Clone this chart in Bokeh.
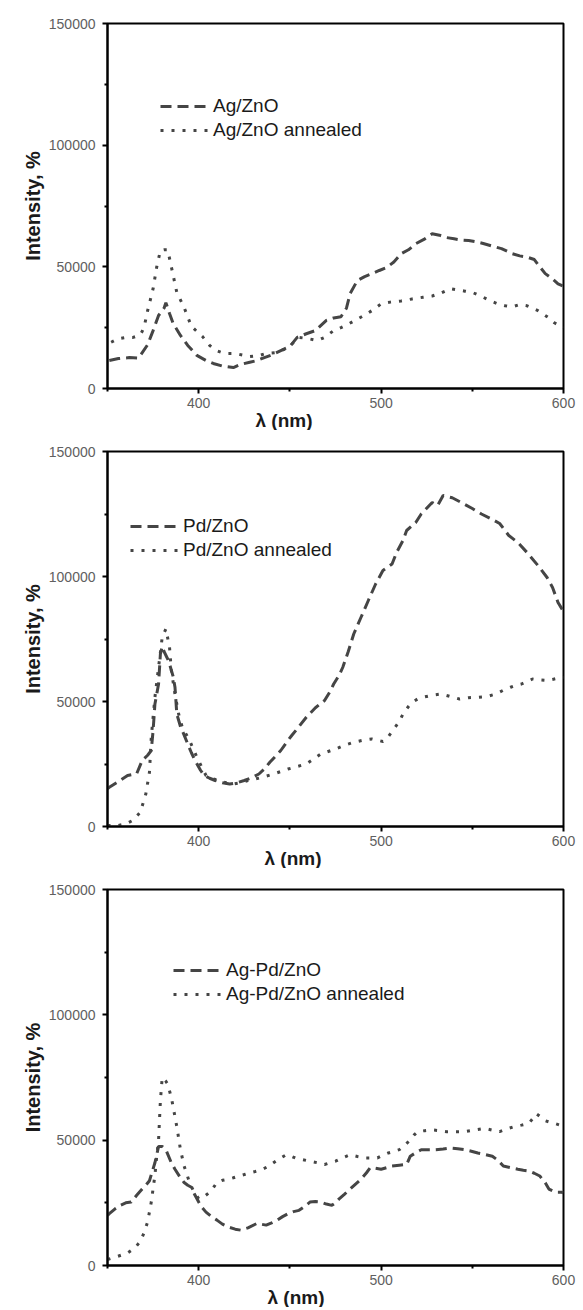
from bokeh.plotting import figure
from bokeh.layouts import column
from bokeh.models import Title, Legend, LegendItem, FixedTicker, NumeralTickFormatter, Range1d
from bokeh.embed import file_html
from bokeh.resources import INLINE

# ---------------- data ----------------
# Panel 1
ag_lam = [351, 356, 362, 367, 372, 375, 378, 381, 382, 384, 386, 390, 394, 399, 404, 408, 413, 419, 423,
          428, 432, 436, 440, 445, 450, 454, 459, 464, 470, 474, 478, 481, 483, 487, 491, 495, 499, 503,
          507, 511, 515, 519, 524, 528, 532, 536, 540, 544, 548, 552, 556, 561, 566, 572, 576, 580, 584,
          587, 590, 594, 597, 600]
ag_int = [11500, 12300, 12700, 12500, 18000, 23800, 30000, 33000, 35300, 30800, 26700, 21800, 17700, 13600,
          11500, 10300, 9200, 8600, 9900, 10800, 11500, 12700, 13800, 15600, 17300, 21000, 22500, 23800,
          28000, 29000, 29500, 33000, 39000, 44400, 46000, 47200, 48500, 49700, 52000, 55400, 57000, 59500,
          61500, 63600, 63000, 62000, 61500, 61000, 60800, 60300, 59600, 58500, 57500, 55400, 54500, 54000,
          53000, 50000, 47200, 45000, 43000, 42000]
ag_ann_lam = [352, 356, 360, 364, 368, 370, 372, 375, 377, 379, 381, 383, 385, 388, 392, 396, 402, 406, 410,
              414, 420, 428, 433, 437, 443, 449, 455, 460, 465, 469, 474, 478, 482, 487, 492, 496, 500, 505,
              511, 517, 523, 528, 532, 538, 542, 546, 550, 553, 556, 560, 564, 568, 572, 576, 580, 583, 586,
              589, 592, 595, 598, 600]
ag_ann_int = [19000, 20500, 21000, 21000, 22000, 25000, 32000, 41000, 50000, 56700, 57000, 57000, 50000,
              39500, 33300, 25500, 21400, 17700, 15500, 14400, 14400, 13100, 13500, 14400, 14800, 16800,
              21000, 20500, 19700, 21000, 23800, 25000, 26500, 28500, 30600, 32500, 34800, 35500, 36000,
              36800, 37500, 38000, 39000, 41000, 40500, 40000, 39500, 38500, 37500, 36000, 34800, 34000,
              33600, 34500, 34000, 33000, 32000, 30500, 29000, 27000, 25800, 25000]

# Panel 2
pd_lam = [350, 351, 356, 361, 366, 369, 372, 374, 375, 376, 378, 379, 380, 381, 383, 384, 386, 387, 388,
          390, 391, 394, 396, 398, 401, 403, 406, 409, 413, 417, 421, 425, 429, 433, 436, 439, 442, 445,
          448, 451, 455, 459, 464, 469, 472, 474, 477, 479, 482, 485, 489, 493, 497, 501, 506, 508.5, 512,
          514, 519, 522, 528, 531, 534, 539, 544, 550, 555, 560, 565, 570, 575, 580, 586, 591, 594, 597, 600]
pd_int = [15000, 15700, 18000, 20400, 21100, 26400, 28500, 30400, 38400, 49000, 57000, 69000, 72000, 70000,
          67000, 65000, 60000, 55700, 45000, 40000, 38400, 33000, 29500, 26400, 22500, 20400, 19300, 18400,
          17500, 17000, 17500, 18400, 19500, 21000, 23000, 25700, 28000, 30400, 33500, 36400, 40000, 43700,
          47500, 50400, 54000, 57000, 60500, 63700, 70000, 77000, 83700, 90400, 97000, 102400, 105000,
          109600, 114400, 118400, 121600, 125000, 129600, 128400, 132400, 131500, 129600, 127200, 125000,
          123200, 121200, 116400, 113600, 109600, 104400, 99600, 95600, 89600, 86000]
pd_ann_lam = [350, 355, 360, 364, 368, 371, 373, 374, 376, 378, 380, 382, 384, 385, 387, 389, 391, 395, 399,
              404, 408, 411, 415, 419, 423, 427, 431, 435, 441, 445, 449, 454, 459, 463, 467, 471, 475, 480,
              485, 490, 495, 501, 504, 507, 510, 512, 515, 517, 520, 523, 528, 533, 538, 543, 548, 553, 558,
              563, 567, 571, 574, 577, 580, 583, 587, 591, 595, 600]
pd_ann_int = [400, 300, 1000, 2500, 5700, 13000, 21700, 35700, 51700, 63700, 75700, 79000, 71700, 62400,
              53000, 45000, 39700, 34400, 27700, 20400, 19000, 18400, 17500, 17000, 17500, 18400, 19000,
              19700, 21000, 22000, 23000, 24000, 25000, 27000, 29000, 30000, 31000, 32500, 33700, 34500,
              35000, 34000, 36000, 39000, 42000, 45000, 48000, 49700, 51000, 51700, 52500, 53000, 52000,
              51000, 51500, 51700, 52000, 53000, 54500, 55700, 56500, 57000, 58000, 59000, 58600, 58400,
              59000, 59700]

# Panel 3
agpd_lam = [350, 351, 354, 357, 360, 363, 366, 369, 371, 373, 376, 378, 380, 382, 385, 387, 390, 392, 394,
            396, 398, 400, 402, 404, 407, 410, 413, 416, 420, 423, 427, 432, 437, 440, 443, 446, 449, 452,
            455, 458, 461, 464, 467, 470, 473, 475, 477, 480, 483, 486, 489, 492, 494, 497, 500, 503, 506,
            510, 514, 516, 519, 522, 526, 530, 534, 538, 542, 546, 550, 553, 557, 561, 564, 567, 571, 575,
            578, 581, 584, 587, 590, 592, 594, 596, 599, 600]
agpd_int = [20000, 20700, 22500, 24000, 25000, 25300, 28000, 30500, 32000, 33800, 41000, 47500, 47500,
            46200, 41000, 38400, 35000, 33100, 32000, 31200, 28000, 25300, 23000, 21300, 19500, 18100,
            16500, 15400, 14500, 14100, 15000, 16800, 16100, 17000, 18100, 19500, 20700, 21500, 22000,
            23500, 25300, 25500, 25300, 24500, 24000, 25000, 26600, 28500, 30500, 32500, 34400, 37000,
            39000, 38800, 38400, 39000, 39700, 40000, 40300, 43600, 45000, 46200, 46200, 46200, 46500,
            46900, 46600, 46200, 45500, 44900, 44300, 43600, 42000, 39700, 39000, 38400, 38000, 37700,
            36800, 35700, 33000, 30500, 29800, 29200, 29200, 29000]
agpd_ann_lam = [350, 355, 361, 365, 368, 370, 372, 374, 376, 377, 378, 379, 380, 382, 383, 385, 386, 388,
                390, 392, 395, 397, 400, 403, 406, 408, 410, 413, 416, 419, 422, 425, 428, 431, 435, 438,
                441, 444, 448, 451, 453, 457, 461, 465, 469, 472, 475, 479, 483, 487, 491, 495, 498, 501,
                504, 507, 510, 513, 516, 518, 520, 524, 528, 532, 536, 541, 546, 551, 557, 561, 565, 569,
                573, 577, 581, 583, 585, 587, 589, 592, 595, 598]
agpd_ann_int = [2400, 3500, 5000, 7000, 9600, 13000, 17400, 25300, 36000, 43600, 50100, 65800, 75000,
                73500, 72400, 67000, 63200, 55400, 46200, 39700, 33100, 30000, 26600, 27500, 29200, 31000,
                33100, 34000, 34400, 35000, 35700, 36300, 37000, 37500, 38400, 39500, 41000, 42500, 44200,
                43500, 42900, 42200, 41600, 41000, 40300, 41000, 41600, 43000, 44200, 43500, 42900, 42900,
                42900, 44000, 44900, 45500, 46200, 48000, 50100, 52000, 53400, 53800, 54100, 53800, 53400,
                53400, 53400, 54000, 54700, 54000, 53400, 54500, 55400, 56000, 56700, 58500, 60600, 59500,
                58000, 57300, 56700, 56000]

x_major = [400, 500, 600]
x_minor = [350, 450, 550]
y_major = [0, 50000, 100000, 150000]
y_minor = [25000, 75000, 125000]

FONT = "Liberation Sans"
LINE = "#454545"
W = 580


def make_panel(la, ia, lb, ib, names, height, bt, bb, bl, br, leg_xy, xlab_offset):
    p = figure(width=W, height=height, x_range=Range1d(350, 600), y_range=Range1d(0, 150000),
               output_backend="svg", toolbar_location=None,
               min_border_top=bt, min_border_bottom=bb, min_border_left=bl, min_border_right=br)
    p.grid.visible = False
    p.outline_line_color = "black"
    p.outline_line_width = 2
    p.outline_line_alpha = 1

    r1 = p.line(la, ia, line_color=LINE, line_width=3, line_dash="11 6")
    r2 = p.line(lb, ib, line_color=LINE, line_width=3, line_dash="3 8")

    for ax in (p.xaxis[0], p.yaxis[0]):
        ax.axis_line_width = 2
        ax.axis_line_color = "black"
        ax.major_tick_line_width = 2
        ax.minor_tick_line_width = 2
        ax.major_tick_in = 0
        ax.major_tick_out = 5
        ax.minor_tick_in = 0
        ax.minor_tick_out = 3
        ax.major_label_text_font = FONT
        ax.major_label_text_font_size = "14px"
        ax.major_label_text_color = "#606060"
        ax.formatter = NumeralTickFormatter(format="0")

    p.xaxis.ticker = FixedTicker(ticks=x_major, minor_ticks=x_minor)
    p.yaxis.ticker = FixedTicker(ticks=y_major, minor_ticks=y_minor)
    p.xaxis.major_label_standoff = 4
    p.yaxis.major_label_standoff = 7

    p.yaxis.axis_label = "Intensity, %"
    p.yaxis.axis_label_text_font = FONT
    p.yaxis.axis_label_text_font_style = "bold"
    p.yaxis.axis_label_text_font_size = "20px"
    p.yaxis.axis_label_text_color = "#1a1a1a"
    p.yaxis.axis_label_standoff = 2

    p.add_layout(Title(text="λ (nm)", align="left", offset=xlab_offset, standoff=-6,
                       text_font=FONT, text_font_style="bold", text_font_size="19px",
                       text_color="#1a1a1a"), "below")

    leg = Legend(items=[LegendItem(label=names[0], renderers=[r1]),
                        LegendItem(label=names[1], renderers=[r2])],
                 location=leg_xy, padding=0, margin=0, spacing=2,
                 glyph_width=48, glyph_height=22, label_height=22, label_standoff=5,
                 label_text_font=FONT, label_text_font_size="19px", label_text_color="#1a1a1a",
                 background_fill_alpha=0, border_line_alpha=0)
    p.add_layout(leg)
    return p


# frame: p1 x 107-563, y 23-388 ; p2 x 102-567, y 451-826 ; p3 x 98-567, y 889-1265
p1 = make_panel(ag_lam, ag_int, ag_ann_lam, ag_ann_int, ["Ag/ZnO", "Ag/ZnO annealed"],
                430, 23, 42, 107, W - 563, (53, 247), 148)
p2 = make_panel(pd_lam, pd_int, pd_ann_lam, pd_ann_int, ["Pd/ZnO", "Pd/ZnO annealed"],
                438, 21, 42, 102, W - 567, (23, 265), 157)
p3 = make_panel(agpd_lam, agpd_int, agpd_ann_lam, agpd_ann_int, ["Ag-Pd/ZnO", "Ag-Pd/ZnO annealed"],
                439, 21, 42, 98, W - 567, (66, 260), 160)

layout = column(p1, p2, p3)
open("out.html", "w").write(file_html(layout, INLINE))
